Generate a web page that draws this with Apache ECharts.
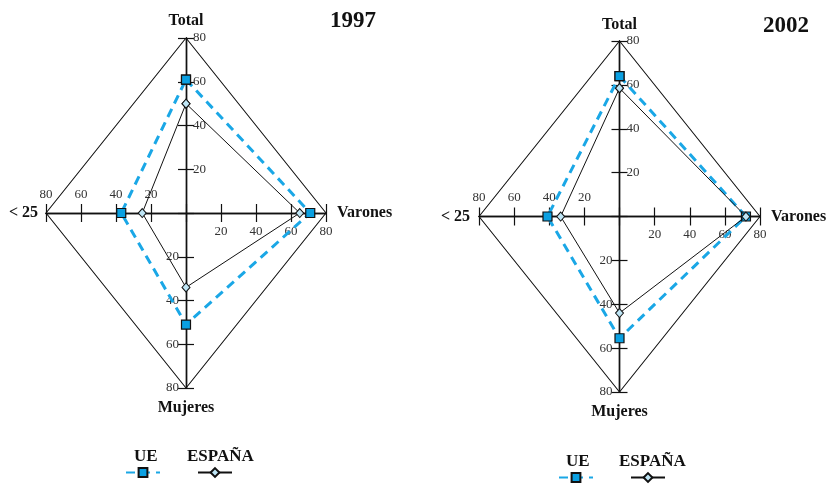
<!DOCTYPE html>
<html>
<head>
<meta charset="utf-8">
<script src="https://cdn.jsdelivr.net/npm/echarts@6/dist/echarts.min.js"></script>
<style>html,body{margin:0;padding:0;background:#fff}#c{width:832px;height:486px}</style>
</head>
<body>
<div id="c"></div>
<script>
// Indicator order: Total (top), Varones (right), Mujeres (bottom), < 25 (left)
const indicators = ['Total', 'Varones', 'Mujeres', '< 25'];
const years = ['1997', '2002'];
const ue1997 = [61, 71, 51, 37];
const esp1997 = [50, 65, 34, 25];
const ue2002 = [64, 72, 55.5, 41];
const esp2002 = [58.5, 72, 44, 33.5];
const axisMax = 80;
const tickStep = 20;
const seriesNames = ['UE', 'ESPAÑA'];

function toPoints(v) {
  return [[0, v[0]], [v[1], 0], [0, -v[2]], [-v[3], 0], [0, v[0]]];
}
const frameVals = [axisMax, axisMax, axisMax, axisMax];

const serif = 'Liberation Serif';
const dark = '#111';
const blue = '#1aa7e6';
const axisLineStyle = { color: dark, width: 1.4 };
const labelStyle = { fontFamily: serif, fontSize: 13, color: '#333' };
const nameStyle = { fontFamily: serif, fontSize: 16, fontWeight: 'bold', color: dark };

const gridBoxes = [
  { left: 46, top: 38, width: 280, height: 350 },
  { left: 479, top: 41, width: 281, height: 351 }
];
const grids = gridBoxes.map(b => Object.assign({ containLabel: false, outerBoundsMode: 'none' }, b));

const xAxes = [], yAxes = [], series = [];
const chartData = [[ue1997, esp1997], [ue2002, esp2002]];
const nameGaps = [
  { total: 9, varones: 11, menores: 8, mujeres: 12 },
  { total: 8, varones: 11, menores: 9, mujeres: 12 }
];

function baseAxis(gi, pos, offset, fmt, margin, tickLen) {
  return {
    gridIndex: gi, type: 'value', min: -axisMax, max: axisMax, interval: tickStep,
    position: pos, offset: offset,
    axisLine: { show: true, onZero: false, lineStyle: axisLineStyle },
    axisTick: { show: true, length: tickLen, lineStyle: { color: dark, width: 1.2 } },
    axisLabel: Object.assign({ formatter: fmt, margin: margin }, labelStyle),
    splitLine: { show: false },
    nameTextStyle: nameStyle,
    nameMoveOverlap: false
  };
}
const posFmt = v => (v > 0 ? String(v) : '');
const negFmt = v => (v < 0 ? String(-v) : '');

for (let g = 0; g < 2; g++) {
  const xi = xAxes.length, yi = yAxes.length;
  const gap = nameGaps[g];
  const hOff = -gridBoxes[g].height / 2;
  const wOff = -gridBoxes[g].width / 2;
  xAxes.push(Object.assign(baseAxis(g, 'bottom', hOff, posFmt, 12, 9),
    { name: indicators[1], nameLocation: 'end', nameGap: gap.varones }));
  xAxes.push(Object.assign(baseAxis(g, 'top', hOff, negFmt, 12, 9),
    { name: indicators[3], nameLocation: 'start', nameGap: gap.menores }));
  yAxes.push(Object.assign(baseAxis(g, 'right', wOff, posFmt, 7, 8),
    { name: indicators[0], nameLocation: 'end', nameGap: gap.total }));
  yAxes.push(Object.assign(baseAxis(g, 'left', wOff, negFmt, 7, 8),
    { name: indicators[2], nameLocation: 'start', nameGap: gap.mujeres }));

  series.push({
    type: 'line', xAxisIndex: xi, yAxisIndex: yi, data: toPoints(frameVals),
    symbol: 'none', silent: true, lineStyle: { color: dark, width: 1.1 }, z: 1
  });
  series.push({
    name: seriesNames[0], type: 'line', xAxisIndex: xi, yAxisIndex: yi,
    data: toPoints(chartData[g][0]),
    symbol: 'rect', symbolSize: 9, showAllSymbol: true,
    lineStyle: { color: blue, width: 3, type: [9, 6] },
    itemStyle: { color: '#0aa0e2', borderColor: dark, borderWidth: 1.2 },
    z: 3
  });
  series.push({
    name: seriesNames[1], type: 'line', xAxisIndex: xi, yAxisIndex: yi,
    data: toPoints(chartData[g][1]),
    symbol: 'diamond', symbolSize: [8, 9], showAllSymbol: true,
    lineStyle: { color: dark, width: 1 },
    itemStyle: { color: '#bfe6f6', borderColor: dark, borderWidth: 1 },
    z: 4
  });
}

const titleStyle = { fontFamily: serif, fontWeight: 'bold', fontSize: 23, color: dark };
const legTextStyle = { fontFamily: serif, fontWeight: 'bold', fontSize: 17, color: dark };

const option = {
  animation: false,
  backgroundColor: '#fff',
  title: [
    { text: years[0], left: 330, top: 10, padding: 0, textStyle: titleStyle },
    { text: years[1], left: 763, top: 15, padding: 0, textStyle: titleStyle },
    { text: seriesNames[0], left: 134, top: 448, padding: 0, textStyle: legTextStyle },
    { text: seriesNames[1], left: 187, top: 448, padding: 0, textStyle: legTextStyle },
    { text: seriesNames[0], left: 566, top: 453, padding: 0, textStyle: legTextStyle },
    { text: seriesNames[1], left: 619, top: 453, padding: 0, textStyle: legTextStyle }
  ],
  legend: [
    { data: seriesNames, left: 125, top: 467, padding: 0, itemWidth: 34, itemHeight: 11, itemGap: 36,
      formatter: () => '', selectedMode: false },
    { data: seriesNames, left: 558, top: 472, padding: 0, itemWidth: 34, itemHeight: 11, itemGap: 36,
      formatter: () => '', selectedMode: false }
  ],
  grid: grids,
  xAxis: xAxes,
  yAxis: yAxes,
  series: series
};

const chart = echarts.init(document.getElementById('c'), null, { renderer: 'canvas' });
chart.setOption(option);
</script>
</body>
</html>
